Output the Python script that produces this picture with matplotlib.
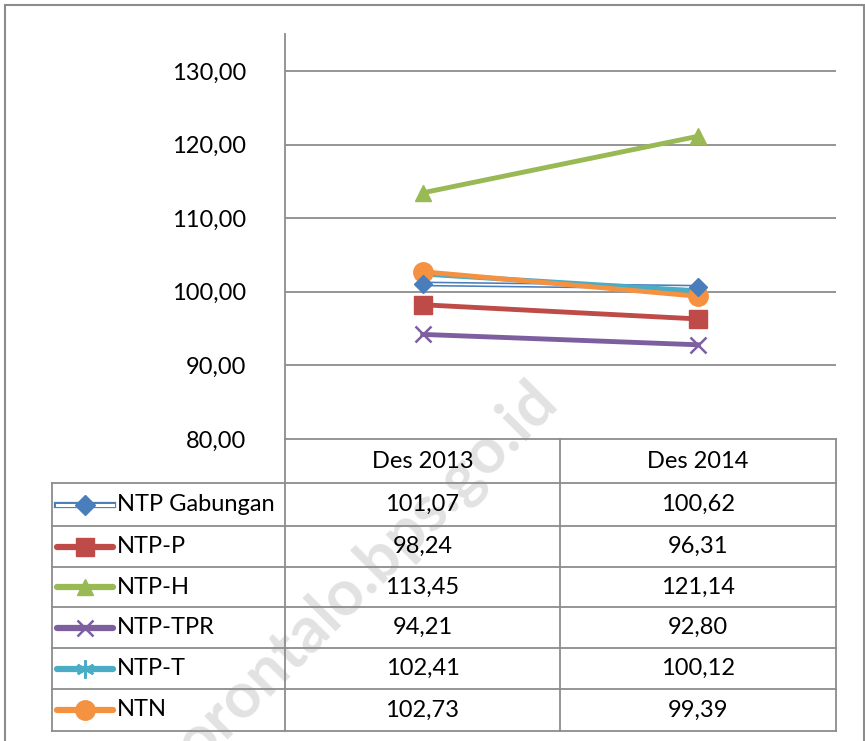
import matplotlib
matplotlib.use("Agg")
import matplotlib.pyplot as plt
from matplotlib.lines import Line2D
from matplotlib.patches import Rectangle

categories = ["Des 2013", "Des 2014"]
series_names = ["NTP Gabungan", "NTP-P", "NTP-H", "NTP-TPR", "NTP-T", "NTN"]
ntp_gabungan = [101.07, 100.62]
ntp_p = [98.24, 96.31]
ntp_h = [113.45, 121.14]
ntp_tpr = [94.21, 92.80]
ntp_t = [102.41, 100.12]
ntn = [102.73, 99.39]
values = [ntp_gabungan, ntp_p, ntp_h, ntp_tpr, ntp_t, ntn]
yticks = [80, 90, 100, 110, 120, 130]

colors = ["#4A7EBB", "#BE4B48", "#98B954", "#7D5FA0", "#4BACC6", "#F59241"]
markers = ["D", "s", "^", "x", (6, 2, 0), "o"]
msizes = [9, 13, 12, 12, 13, 14]

W, H = 865, 741
fig = plt.figure(figsize=(W / 100, H / 100), dpi=100)
plt.rcParams['font.family'] = ['Lato', 'DejaVu Sans']
FS = 17
grid_c = "#8C8C8C"

def fx(px):
    return px / W

def fy(py):
    return 1 - py / H

# outer border
fig.patches.append(Rectangle((fx(4.5), fy(745)), fx(859), (745 - 4.5) / H, transform=fig.transFigure,
                             fill=False, edgecolor="#8C8C8C", lw=1.5))

# watermark (drawn first, light)
fig.text(fx(355), fy(585), "gorontalo.bps.go.id", rotation=45, ha="center", va="center",
         fontsize=46, fontweight="bold", color="#E2E2E2", zorder=0)

left, right, top, bottom = 285, 836, 34, 439
ax = fig.add_axes([fx(left), fy(bottom), fx(right - left), (bottom - top) / H])
ax.patch.set_alpha(0)
ax.set_xlim(-0.5, 1.5)
ax.set_ylim(80, 135.03)
for yv in yticks[1:]:
    ax.axhline(yv, color=grid_c, lw=1.3, zorder=0)
for s in ["top", "right", "bottom"]:
    ax.spines[s].set_visible(False)
ax.spines["left"].set_color(grid_c)
ax.spines["left"].set_linewidth(1.3)
ax.set_xticks([])
ax.set_yticks(yticks)
ax.set_yticklabels([f"{v:.2f}".replace(".", ",") for v in yticks], fontsize=FS)
ax.tick_params(axis="y", length=0, pad=28)

xs = [0, 1]
for i, (name, vals) in enumerate(zip(series_names, values)):
    c = colors[i]
    crossy = i in (3, 4)
    if i == 0:
        ax.plot(xs, vals, color=c, lw=3.5, zorder=3)
        ax.plot(xs, vals, color="white", lw=1.2, zorder=3)
        ax.plot(xs, vals, ls="none", marker=markers[i], ms=msizes[i], color=c, zorder=4)
    else:
        ax.plot(xs, vals, color=c, lw=3.5, marker=markers[i], ms=msizes[i],
                mew=1.8 if crossy else 1, zorder=3)

# table
col_x = [52, 285, 560, 836]
row_y = [439, 483, 526, 567, 607, 648, 689, 731]
lc = grid_c
def hline(y, x0, x1):
    fig.add_artist(Line2D([fx(x0), fx(x1)], [fy(y), fy(y)], color=lc, lw=1.3))
def vline(x, y0, y1):
    fig.add_artist(Line2D([fx(x), fx(x)], [fy(y0), fy(y1)], color=lc, lw=1.3))

hline(row_y[0], col_x[1], col_x[3])
for y in row_y[1:]:
    hline(y, col_x[0], col_x[3])
vline(col_x[0], row_y[1], row_y[-1])
for x in col_x[1:]:
    vline(x, row_y[0], row_y[-1])

for j, cat in enumerate(categories):
    fig.text(fx((col_x[j + 1] + col_x[j + 2]) / 2), fy((row_y[0] + row_y[1]) / 2), cat,
             ha="center", va="center", fontsize=FS)

for i, (name, vals) in enumerate(zip(series_names, values)):
    yc = fy((row_y[i + 1] + row_y[i + 2]) / 2)
    c = colors[i]
    lx = [fx(57), fx(113)]
    if i == 0:
        fig.add_artist(Line2D(lx, [yc, yc], color=c, lw=4.5))
        fig.add_artist(Line2D(lx, [yc, yc], color="white", lw=2.2))
        fig.add_artist(Line2D([fx(85)], [yc], color=c, marker="D", ms=10, ls="none"))
    else:
        fig.add_artist(Line2D(lx, [yc, yc], color=c, lw=4.5, solid_capstyle="round"))
        fig.add_artist(Line2D([fx(85)], [yc], color=c, marker=markers[i], ms=msizes[i],
                              mew=1.8 if i in (3, 4) else 1, ls="none"))
    fig.text(fx(117), yc, name, ha="left", va="center", fontsize=FS)
    for j, v in enumerate(vals):
        fig.text(fx((col_x[j + 1] + col_x[j + 2]) / 2), yc, f"{v:.2f}".replace(".", ","),
                 ha="center", va="center", fontsize=FS)

fig.savefig("out.png", dpi=100)
